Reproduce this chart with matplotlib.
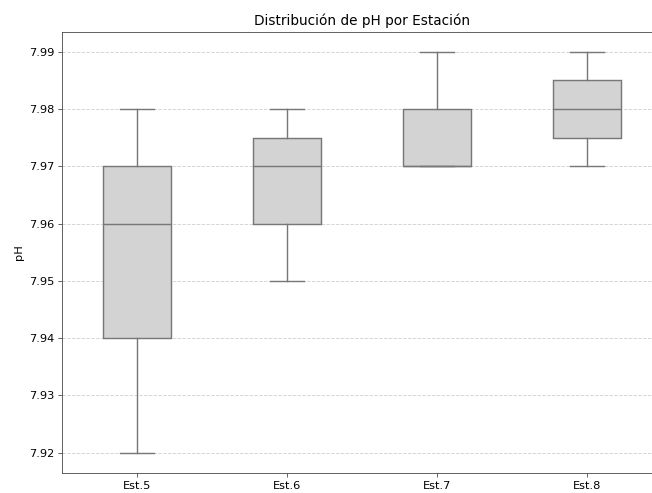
import matplotlib
matplotlib.use("Agg")
import matplotlib.pyplot as plt

estaciones = ["Est.5", "Est.6", "Est.7", "Est.8"]
whislo = [7.92, 7.95, 7.97, 7.97]
q1 = [7.94, 7.96, 7.97, 7.975]
med = [7.96, 7.97, 7.97, 7.98]
q3 = [7.97, 7.975, 7.98, 7.985]
whishi = [7.98, 7.98, 7.99, 7.99]

stats = [
    dict(label=l, whislo=a, q1=b, med=c, q3=d, whishi=e, fliers=[])
    for l, a, b, c, d, e in zip(estaciones, whislo, q1, med, q3, whishi)
]

DPI = 81.5
fig = plt.figure(figsize=(652 / DPI, 493 / DPI), dpi=DPI)
ax = fig.add_axes([62 / 652, 1 - 472.7 / 493, 600 / 652, (472.7 - 31.7) / 493])

edge = "#777777"
lw = 1.25
ax.bxp(
    stats,
    positions=[0, 1, 2, 3],
    widths=0.45,
    patch_artist=True,
    showfliers=False,
    boxprops=dict(facecolor="lightgray", edgecolor=edge, linewidth=lw),
    medianprops=dict(color=edge, linewidth=lw),
    whiskerprops=dict(color=edge, linewidth=lw),
    capprops=dict(color=edge, linewidth=lw),
)
ax.set_xlim(-0.5, 3.5)
ax.set_ylim(7.9165, 7.9935)
ax.set_yticks([7.92, 7.93, 7.94, 7.95, 7.96, 7.97, 7.98, 7.99])
ax.set_xticks([0, 1, 2, 3])
ax.set_xticklabels(estaciones)
ax.tick_params(labelsize=10, color="#555555")
ax.yaxis.grid(True, linestyle="--", color="#c8c8c8", alpha=0.8)
ax.set_axisbelow(True)
ax.set_ylabel("pH", fontsize=10)
ax.set_title("Distribución de pH por Estación", fontsize=12)
for s in ax.spines.values():
    s.set_color("#555555")

fig.savefig("out.png", dpi=DPI)
